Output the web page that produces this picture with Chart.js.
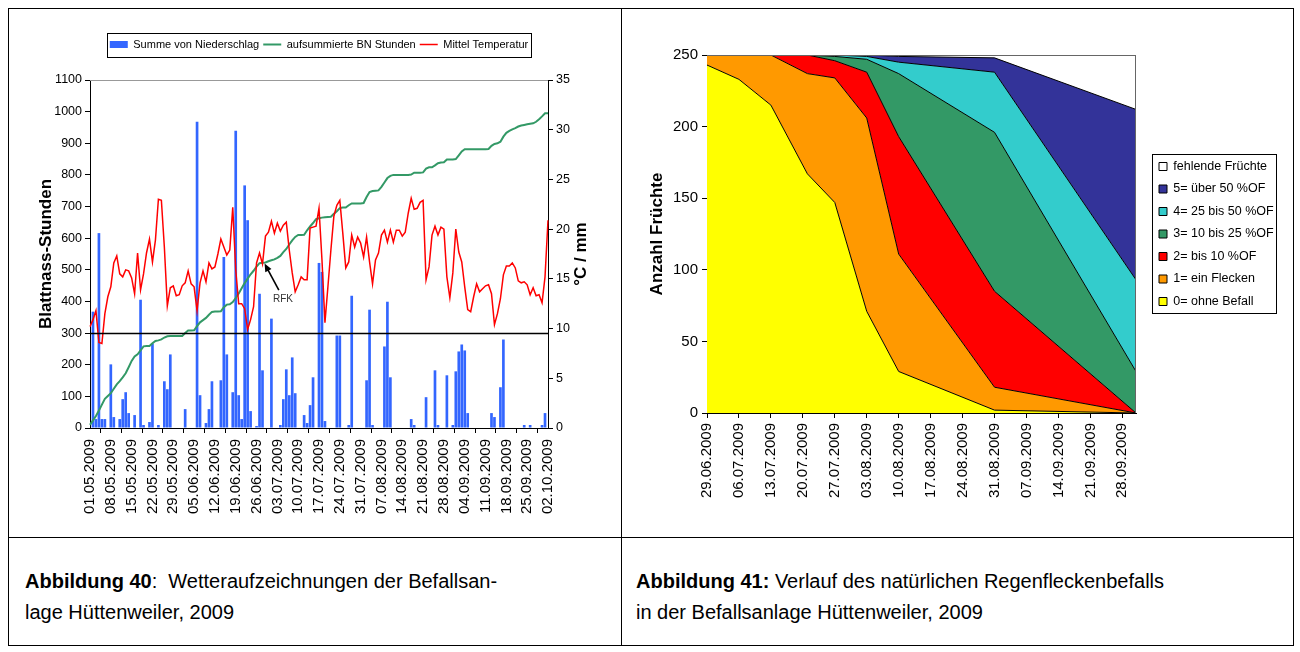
<!DOCTYPE html>
<html lang="de">
<head>
<meta charset="utf-8">
<title>Befallsanlage Hüttenweiler 2009</title>
<script src="https://cdn.jsdelivr.net/npm/chart.js@4.4.1/dist/chart.umd.min.js"></script>
<style>
  html, body { margin: 0; padding: 0; background: #fff; }
  body { width: 1300px; height: 652px; position: relative; overflow: hidden; font-family: "Liberation Sans", Arial, sans-serif; color: #000; }
  .frame { position: absolute; left: 8px; top: 8px; width: 1286px; height: 638px; border: 1px solid #000; box-sizing: border-box; }
  .vline { position: absolute; left: 621px; top: 8px; width: 1px; height: 638px; background: #000; }
  .hline { position: absolute; left: 8px; top: 537px; width: 1286px; height: 1px; background: #000; }
  .cap { position: absolute; top: 566px; font-size: 20px; line-height: 31px; white-space: nowrap; }
  #capLeft { left: 25px; }
  #capRight { left: 636px; }
  canvas { position: absolute; }
  #weather { left: 9px; top: 9px; }
  #befall { left: 622px; top: 9px; }
</style>
</head>
<body>
<div class="frame"></div>
<div class="vline"></div>
<div class="hline"></div>
<canvas id="weather" width="611" height="527"></canvas>
<canvas id="befall" width="670" height="527"></canvas>
<div class="cap" id="capLeft"><b>Abbildung 40</b>:&nbsp; Wetteraufzeichnungen der Befallsan-<br>lage Hüttenweiler, 2009</div>
<div class="cap" id="capRight"><b>Abbildung 41:</b> Verlauf des natürlichen Regenfleckenbefalls<br>in der Befallsanlage Hüttenweiler, 2009</div>
<script>
// ---------- Abbildung 40: daily weather 01.05.2009 - 02.10.2009 ----------
var dayLabels = [];
for (var d = new Date(2009, 4, 1); d <= new Date(2009, 9, 2); d.setDate(d.getDate() + 1)) {
    dayLabels.push(('0' + d.getDate()).slice(-2) + '.' + ('0' + (d.getMonth() + 1)).slice(-2) + '.' + d.getFullYear());
}

// Summe von Niederschlag (mm)
var precip = [
    0, 11.7, 0.9, 19.6, 0.9, 0.9, 0, 6.4, 1.1, 0,
    0.9, 2.9, 3.6, 1.5, 0, 1.3, 0, 12.9, 0.3, 0,
    0.6, 8.5, 0, 0.3, 0, 4.7, 3.9, 7.4, 0, 0,
    0, 0, 1.9, 0, 0, 0, 30.8, 3.3, 0, 0.5,
    1.9, 4.7, 0, 0, 4.8, 17.2, 7.4, 0, 3.6, 29.9,
    3.3, 0.9, 24.4, 20.9, 1.7, 0, 0.2, 13.5, 5.8, 0,
    0, 11.0, 0, 0, 0.3, 2.9, 5.9, 3.3, 7.1, 3.5,
    0, 0, 1.3, 0.5, 2.3, 5.1, 0, 16.6, 15.7, 0.7,
    0, 0, 0, 9.3, 9.3, 0, 0, 0.3, 13.3, 0,
    0, 0, 0, 4.8, 11.9, 0.3, 0, 0, 0, 8.2,
    12.7, 5.1, 0, 0, 0, 0, 0, 0, 0.9, 0.3,
    0, 0, 0, 3.1, 0, 0, 5.8, 0.3, 0, 0,
    5.3, 0, 0.3, 5.7, 7.7, 8.4, 7.8, 1.5, 0, 0,
    0, 0, 0, 0, 0, 1.5, 1.1, 0, 4.1, 8.9,
    0, 0, 0, 0, 0, 0, 0.3, 0, 0.3, 0,
    0, 0, 0.3, 1.5, 0
];

// aufsummierte BN Stunden
var bnHours = [
    10, 24, 38, 55, 74, 92, 101, 110, 124, 138,
    148, 160, 173, 192, 212, 226, 233, 245, 258, 259,
    259, 268, 275, 277, 280, 286, 290, 291, 291, 291,
    291, 291, 300, 308, 308, 309, 322, 334, 341, 348,
    358, 367, 368, 368, 369, 382, 390, 391, 398, 411,
    425, 442, 458, 472, 486, 497, 510, 521, 522, 523,
    527, 530, 533, 538, 544, 556, 566, 580, 593, 604,
    610, 610, 611, 625, 637, 648, 660, 663, 665, 666,
    667, 668, 677, 685, 695, 697, 697, 704, 710, 710,
    710, 710, 711, 730, 746, 749, 750, 751, 762, 776,
    790, 797, 800, 800, 800, 800, 800, 800, 801, 807,
    807, 807, 808, 820, 824, 824, 830, 837, 839, 840,
    849, 849, 849, 850, 862, 874, 881, 881, 881, 881,
    881, 881, 881, 881, 882, 892, 898, 900, 905, 921,
    933, 939, 944, 948, 953, 956, 958, 960, 962, 963,
    968, 976, 985, 995, 995
];

// Mittel Temperatur (°C)
var meanTemp = [
    10.2, 10.9, 11.8, 8.6, 8.5, 11.5, 13.2, 14.2, 16.6, 17.3,
    15.5, 15.2, 15.9, 15.8, 15.1, 13.5, 17.6, 13.9, 15.5, 17.6,
    19.0, 16.7, 18.9, 23.0, 22.9, 18.2, 12.3, 14.1, 14.3, 13.3,
    13.4, 14.3, 14.6, 15.8, 14.5, 14.2, 11.8, 14.6, 15.8, 14.7,
    16.6, 16.0, 16.2, 17.5, 19.0, 18.2, 17.4, 17.9, 22.2, 15.9,
    12.5, 12.5, 12.0, 9.9, 10.9, 12.2, 16.6, 17.6, 16.5, 19.3,
    19.7, 20.8, 19.6, 20.6, 19.8, 20.4, 20.7, 17.9, 15.6, 13.7,
    14.4, 15.2, 14.9, 14.9, 20.1, 20.2, 20.3, 22.1, 16.9, 10.6,
    14.2, 17.9, 21.3, 22.4, 22.9, 19.6, 16.1, 16.7, 19.4, 18.2,
    19.2, 18.6, 17.2, 19.2, 16.7, 14.5, 16.9, 17.6, 19.4, 19.9,
    18.7, 19.9, 18.7, 19.9, 19.9, 19.3, 19.7, 21.6, 23.1, 22.0,
    22.1, 22.7, 22.9, 14.9, 16.2, 19.4, 20.3, 19.4, 20.2, 20.0,
    15.2, 13.1, 15.6, 20.0, 17.7, 16.7, 14.2, 11.9, 11.7, 13.2,
    14.5, 13.7, 14.0, 14.3, 14.4, 13.5, 10.4, 11.5, 13.0, 15.4,
    16.3, 16.3, 16.6, 16.1, 14.8, 14.6, 14.7, 14.4, 13.4, 14.1,
    13.3, 13.4, 12.6, 15.2, 20.9
];

var thresholdHours = 300;
var rfkNote = { text: 'RFK', day: 58.7, hours: 520, tailDay: 63.5, tailHours: 436, textDay: 64.9, textHours: 408 };

// ---------- Abbildung 41: Befall classes ----------
var befallDays = [0, 7, 14, 22, 28, 35, 42, 63, 94]; // days after 29.06.2009
var befallTicks = ['29.06.2009', '06.07.2009', '13.07.2009', '20.07.2009', '27.07.2009', '03.08.2009', '10.08.2009',
    '17.08.2009', '24.08.2009', '31.08.2009', '07.09.2009', '14.09.2009', '21.09.2009', '28.09.2009'];
var ohneBefall = [243, 233, 215, 167, 147, 71, 29, 2, 0];
var einFlecken = [7, 17, 35, 70, 87, 135, 82, 16, 0];
var bis10 = [0, 0, 0, 13, 12, 32, 82, 67, 0];
var bis25 = [0, 0, 0, 0, 3, 9, 44, 111, 29];
var bis50 = [0, 0, 0, 0, 1, 2, 8, 42, 64];
var ueber50 = [0, 0, 0, 0, 0, 1, 4, 10, 119];
var fehlend = [0, 0, 0, 0, 0, 0, 1, 2, 38];

Chart.defaults.font.family = '"Liberation Sans", Arial, sans-serif';
Chart.defaults.color = '#000';

function plainNumber(v) { return String(v); }

function pairs(xs, ys) {
    return ys.map(function (v, i) { return { x: xs[i], y: v }; });
}

// legend helper: fixed box size, optional shift, frame around the items
var legendFix = {
    id: 'legendFix',
    beforeLayout: function (chart, args, opts) {
        var lg = chart.legend;
        if (!lg || lg.$fixed) return;
        var fit = lg.fit;
        lg.fit = function () {
            fit.call(this);
            if (opts.width) this.width = opts.width;
            if (opts.height) this.height = opts.height;
        };
        lg.$fixed = true;
    },
    afterLayout: function (chart, args, opts) {
        if (chart.legend && opts.dx) {
            chart.legend.left += opts.dx;
            chart.legend.right += opts.dx;
        }
    },
    afterDraw: function (chart, args, opts) {
        var boxes = chart.legend && chart.legend.legendHitBoxes;
        if (!boxes || !boxes.length) return;
        var p = opts.pad || [0, 0, 0, 0];
        var l = Math.min.apply(null, boxes.map(function (b) { return b.left; })) - p[3];
        var r = Math.max.apply(null, boxes.map(function (b) { return b.left + b.width; })) + p[1];
        var t = Math.min.apply(null, boxes.map(function (b) { return b.top; })) - p[0];
        var bt = Math.max.apply(null, boxes.map(function (b) { return b.top + b.height; })) + p[2];
        var ctx = chart.ctx;
        ctx.save();
        ctx.strokeStyle = '#000';
        ctx.lineWidth = 1;
        ctx.strokeRect(Math.round(l) + 0.5, Math.round(t) + 0.5, Math.round(r - l), Math.round(bt - t));
        ctx.restore();
    }
};

var plotFrame = {
    id: 'plotFrame',
    afterDatasetsDraw: function (chart, args, opts) {
        var a = chart.chartArea, ctx = chart.ctx;
        ctx.save();
        ctx.strokeStyle = opts.color || '#888';
        ctx.lineWidth = 1;
        ctx.beginPath();
        ctx.moveTo(a.left, a.top + 0.5);
        ctx.lineTo(a.right, a.top + 0.5);
        if (opts.right) {
            ctx.moveTo(a.right - 0.5, a.top);
            ctx.lineTo(a.right - 0.5, a.bottom);
        }
        ctx.stroke();
        ctx.restore();
    }
};

var weatherDecor = {
    id: 'weatherDecor',
    afterDatasetsDraw: function (chart) {
        var ctx = chart.ctx, a = chart.chartArea, x = chart.scales.x, y = chart.scales.y;
        ctx.save();
        var ty = Math.round(y.getPixelForValue(thresholdHours)) + 0.5;
        ctx.strokeStyle = '#000';
        ctx.lineWidth = 1.3;
        ctx.beginPath();
        ctx.moveTo(a.left, ty);
        ctx.lineTo(a.right, ty);
        ctx.stroke();

        var hx = x.getPixelForValue(rfkNote.day), hy = y.getPixelForValue(rfkNote.hours);
        var tx = x.getPixelForValue(rfkNote.tailDay), tyy = y.getPixelForValue(rfkNote.tailHours);
        var ang = Math.atan2(hy - tyy, hx - tx);
        ctx.lineWidth = 1.6;
        ctx.beginPath();
        ctx.moveTo(tx, tyy);
        ctx.lineTo(hx - Math.cos(ang) * 4, hy - Math.sin(ang) * 4);
        ctx.stroke();
        ctx.fillStyle = '#000';
        ctx.beginPath();
        ctx.moveTo(hx, hy);
        ctx.lineTo(hx - Math.cos(ang) * 8 + Math.sin(ang) * 3.5, hy - Math.sin(ang) * 8 - Math.cos(ang) * 3.5);
        ctx.lineTo(hx - Math.cos(ang) * 8 - Math.sin(ang) * 3.5, hy - Math.sin(ang) * 8 + Math.cos(ang) * 3.5);
        ctx.closePath();
        ctx.fill();
        ctx.fillStyle = '#333';
        ctx.font = '10px "Liberation Sans", Arial';
        ctx.textAlign = 'center';
        ctx.textBaseline = 'middle';
        ctx.fillText(rfkNote.text, x.getPixelForValue(rfkNote.textDay), y.getPixelForValue(rfkNote.textHours));
        ctx.restore();
    },
    afterDraw: function (chart) {
        var ctx = chart.ctx, a = chart.chartArea, y1 = chart.scales.y1;
        ctx.save();
        ctx.translate(y1.left + 33, (a.top + a.bottom) / 2);
        ctx.rotate(-Math.PI / 2);
        ctx.font = 'bold 17px "Liberation Sans", Arial';
        ctx.fillStyle = '#000';
        ctx.textAlign = 'center';
        ctx.textBaseline = 'middle';
        ctx.fillText('°C / mm', 0, 0);
        ctx.restore();
    }
};

var axisLine = { color: '#000', width: 1 };
var tickMarks = { drawOnChartArea: false, color: '#000', tickLength: 5 };

new Chart(document.getElementById('weather'), {
    type: 'bar',
    data: {
        labels: dayLabels,
        datasets: [{
            type: 'bar',
            label: 'Summe von Niederschlag',
            data: precip,
            yAxisID: 'y1',
            backgroundColor: '#3366ff',
            borderWidth: 0,
            barPercentage: 1,
            categoryPercentage: 0.9,
            order: 3
        }, {
            type: 'line',
            label: 'aufsummierte BN Stunden',
            data: bnHours,
            yAxisID: 'y',
            borderColor: '#339966',
            backgroundColor: '#339966',
            borderWidth: 2,
            pointRadius: 0,
            tension: 0,
            order: 2
        }, {
            type: 'line',
            label: 'Mittel Temperatur',
            data: meanTemp,
            yAxisID: 'y1',
            borderColor: '#ff0000',
            backgroundColor: '#ff0000',
            borderWidth: 1.5,
            pointRadius: 0,
            tension: 0,
            order: 1
        }]
    },
    options: {
        responsive: false,
        animation: false,
        layout: { padding: { left: 27, right: 0, top: 26, bottom: 0 } },
        scales: {
            x: {
                type: 'category',
                offset: false,
                grid: tickMarks,
                border: axisLine,
                ticks: { autoSkip: false, maxRotation: 90, minRotation: 90, font: { size: 15 }, padding: 6 },
                afterBuildTicks: function (s) { s.ticks = s.ticks.filter(function (t) { return t.value % 7 === 0; }); },
                afterFit: function (s) { s.height = 108; }
            },
            y: {
                position: 'left',
                min: 0, max: 1100,
                grid: tickMarks,
                border: axisLine,
                ticks: { stepSize: 100, font: { size: 12.5 }, padding: 3, callback: plainNumber },
                title: { display: true, text: 'Blattnass-Stunden', font: { size: 17, weight: 'bold' }, padding: 0 },
                afterFit: function (s) { s.width = 54; }
            },
            y1: {
                position: 'right',
                min: 0, max: 35,
                grid: tickMarks,
                border: axisLine,
                ticks: { stepSize: 5, font: { size: 12.5 }, padding: 3, callback: plainNumber },
                afterFit: function (s) { s.width = 72; }
            }
        },
        plugins: {
            tooltip: { enabled: false },
            legend: {
                position: 'top',
                fullSize: false,
                labels: {
                    usePointStyle: true,
                    pointStyleWidth: 18,
                    boxHeight: 7,
                    padding: 4,
                    font: { size: 11 },
                    sort: function (a, b) { return a.datasetIndex - b.datasetIndex; },
                    generateLabels: function (chart) {
                        var items = Chart.defaults.plugins.legend.labels.generateLabels(chart);
                        items.forEach(function (it) { it.pointStyle = it.datasetIndex === 0 ? 'rect' : 'line'; });
                        return items;
                    }
                }
            },
            legendFix: { height: 45, pad: [6, 3, 7, 3] },
            plotFrame: { color: '#999', right: false }
        }
    },
    plugins: [legendFix, plotFrame, weatherDecor]
});

var befallSeries = [
    { label: '0= ohne Befall', data: ohneBefall, color: '#ffff00' },
    { label: '1= ein Flecken', data: einFlecken, color: '#ff9900' },
    { label: '2= bis 10 %OF', data: bis10, color: '#ff0000' },
    { label: '3= 10 bis 25 %OF', data: bis25, color: '#339966' },
    { label: '4= 25 bis 50 %OF', data: bis50, color: '#33cccc' },
    { label: '5= über 50 %OF', data: ueber50, color: '#333399' },
    { label: 'fehlende Früchte', data: fehlend, color: '#ffffff' }
];

new Chart(document.getElementById('befall'), {
    type: 'line',
    data: {
        datasets: befallSeries.map(function (s, i) {
            return {
                label: s.label,
                data: pairs(befallDays, s.data),
                backgroundColor: s.color,
                borderColor: '#000',
                borderWidth: 1,
                pointRadius: 0,
                tension: 0,
                fill: i === 0 ? 'origin' : '-1'
            };
        })
    },
    options: {
        responsive: false,
        animation: false,
        layout: { padding: { left: 25, right: 0, top: 46, bottom: 0 } },
        scales: {
            x: {
                type: 'linear',
                min: 0, max: 94,
                grid: tickMarks,
                border: axisLine,
                ticks: {
                    stepSize: 7, includeBounds: false, autoSkip: false, maxRotation: 90, minRotation: 90,
                    font: { size: 15 }, padding: 5,
                    callback: function (v) { return befallTicks[v / 7]; }
                },
                afterBuildTicks: function (s) { s.ticks = s.ticks.filter(function (t) { return t.value % 7 === 0; }); },
                afterFit: function (s) { s.height = 123; }
            },
            y: {
                stacked: true,
                min: 0, max: 250,
                grid: tickMarks,
                border: axisLine,
                ticks: { stepSize: 50, font: { size: 15 }, padding: 4 },
                title: { display: true, text: 'Anzahl Früchte', font: { size: 17, weight: 'bold' }, padding: 0 },
                afterFit: function (s) { s.width = 60; }
            }
        },
        plugins: {
            tooltip: { enabled: false },
            legend: {
                position: 'right',
                fullSize: false,
                reverse: true,
                labels: { boxWidth: 8, boxHeight: 8, padding: 10, font: { size: 12.5 } }
            },
            legendFix: { width: 156, dx: 13, pad: [6, 2, 5, 7] },
            plotFrame: { color: '#666', right: true }
        }
    },
    plugins: [legendFix, plotFrame]
});
</script>
</body>
</html>
